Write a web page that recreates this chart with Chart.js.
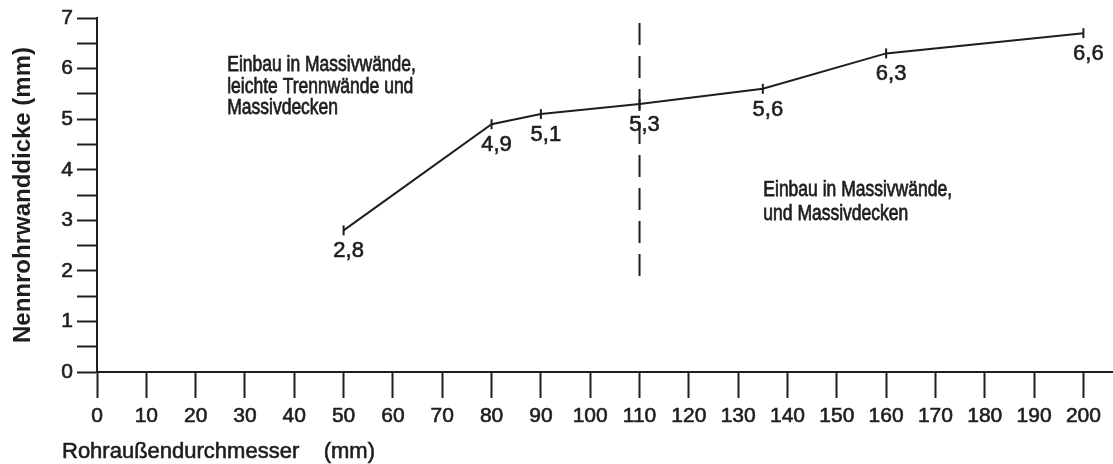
<!DOCTYPE html>
<html>
<head>
<meta charset="utf-8">
<script src="https://cdn.jsdelivr.net/npm/chart.js@4"></script>
<style>
  html, body { margin: 0; padding: 0; background: #fff; }
  #wrap { width: 1113px; height: 464px; }
</style>
</head>
<body>
<div id="wrap"><canvas id="chart"></canvas></div>
<script>
// pipe outer diameter (mm) vs. nominal wall thickness (mm)
const diameters = [50, 80, 90, 110, 135, 160, 200];
const thickness = [2.8, 4.9, 5.1, 5.3, 5.6, 6.3, 6.7];
const thicknessLabels = ["2,8", "4,9", "5,1", "5,3", "5,6", "6,3", "6,6"];

const xTickValues = [0, 10, 20, 30, 40, 50, 60, 70, 80, 90, 100,
  110, 120, 130, 140, 150, 160, 170, 180, 190, 200];

// dashed divider at 110 mm (drawn top to bottom)
const dividerX = [110, 110];
const dividerY = [6.9, 1.85];

const noteLeft = ["Einbau in Massivwände,", "leichte Trennwände und", "Massivdecken"];
const noteRight = ["Einbau in Massivwände,", "und Massivdecken"];
const xTitle = "Rohraußendurchmesser    (mm)";
const yTitle = "Nennrohrwanddicke (mm)";

const INK = "#1e1e1e";
const FONT = "'Liberation Sans', Arial, sans-serif";
const STROKE = 0.6; // scanned text looks a bit heavy

const textPlugin = {
  id: "textPlugin",
  afterDatasetsDraw(chart) {
    const ctx = chart.ctx;
    const area = chart.chartArea;
    const xs = chart.scales.x;
    const ys = chart.scales.y;
    ctx.save();
    ctx.fillStyle = INK;
    ctx.strokeStyle = INK;
    ctx.lineWidth = STROKE;
    const put = (t, x, y) => {
      ctx.fillText(t, x, y);
      ctx.strokeText(t, x, y);
    };

    // value labels under each point
    ctx.font = "22px " + FONT;
    ctx.textAlign = "center";
    ctx.textBaseline = "middle";
    chart.getDatasetMeta(0).data.forEach((pt, i) => {
      put(thicknessLabels[i], pt.x + 5, pt.y + 21);
    });

    // the two notes (scan is a bit stretched vertically)
    ctx.font = "17.5px " + FONT;
    ctx.textAlign = "left";
    const note = (lines, xv, yv, step) => {
      const px = xs.getPixelForValue(xv);
      const py = ys.getPixelForValue(yv);
      lines.forEach((t, i) => {
        ctx.save();
        ctx.translate(px, py + i * step);
        ctx.scale(1, 1.25);
        put(t, 0, 0);
        ctx.restore();
      });
    };
    note(noteLeft, 26.4, 6.07, 21.5);
    note(noteRight, 135.1, 3.59, 24);

    // x axis title, starts left of the plot
    ctx.font = "22px " + FONT;
    put(xTitle, area.left - 35, chart.height - 12);
    ctx.restore();
  }
};

new Chart("chart", {
  type: "line",
  data: {
    datasets: [
      {
        data: diameters.map((d, i) => ({ x: d, y: thickness[i] })),
        borderColor: INK,
        borderWidth: 2,
        pointStyle: "line",
        rotation: 90,
        pointRadius: 5,
        pointBorderWidth: 2,
        pointBorderColor: INK,
        tension: 0,
      },
      {
        data: dividerX.map((d, i) => ({ x: d, y: dividerY[i] })),
        borderColor: INK,
        borderWidth: 2,
        borderDash: [22, 11],
        pointRadius: 0,
      },
    ],
  },
  options: {
    animation: false,
    responsive: true,
    maintainAspectRatio: false,
    devicePixelRatio: 1,
    layout: { autoPadding: false, padding: { top: 18, right: 0, bottom: 0, left: 0 } },
    plugins: {
      legend: { display: false },
      tooltip: { enabled: false },
    },
    scales: {
      x: {
        type: "linear",
        min: 0,
        max: 206,
        afterBuildTicks: (scale) => {
          scale.ticks = xTickValues.map((v) => ({ value: v }));
        },
        afterFit: (scale) => {
          scale.height = 92;
          scale.paddingLeft = 0;
          scale.paddingRight = 0;
        },
        ticks: {
          autoSkip: false,
          maxRotation: 0,
          padding: 6,
          color: INK,
          textStrokeColor: INK,
          textStrokeWidth: STROKE,
          font: { family: FONT, size: 21 },
        },
        grid: {
          drawOnChartArea: false,
          drawTicks: true,
          tickLength: 26,
          tickWidth: 2,
          tickColor: INK,
        },
        border: { color: INK, width: 2 },
      },
      y: {
        min: 0,
        max: 7,
        afterFit: (scale) => {
          scale.width = 97;
        },
        ticks: {
          stepSize: 0.5,
          autoSkip: false,
          padding: 4,
          color: INK,
          textStrokeColor: INK,
          textStrokeWidth: STROKE,
          font: { family: FONT, size: 21 },
          callback: (v) => (Number.isInteger(v) ? v : ""),
        },
        grid: {
          drawOnChartArea: false,
          drawTicks: true,
          tickLength: 20,
          tickWidth: 2,
          tickColor: INK,
        },
        border: { color: INK, width: 2 },
        title: {
          display: true,
          text: yTitle,
          color: INK,
          font: { family: FONT, size: 24, weight: "bold" },
          padding: { top: 9, bottom: 0 },
        },
      },
    },
  },
  plugins: [textPlugin],
});
</script>
</body>
</html>
